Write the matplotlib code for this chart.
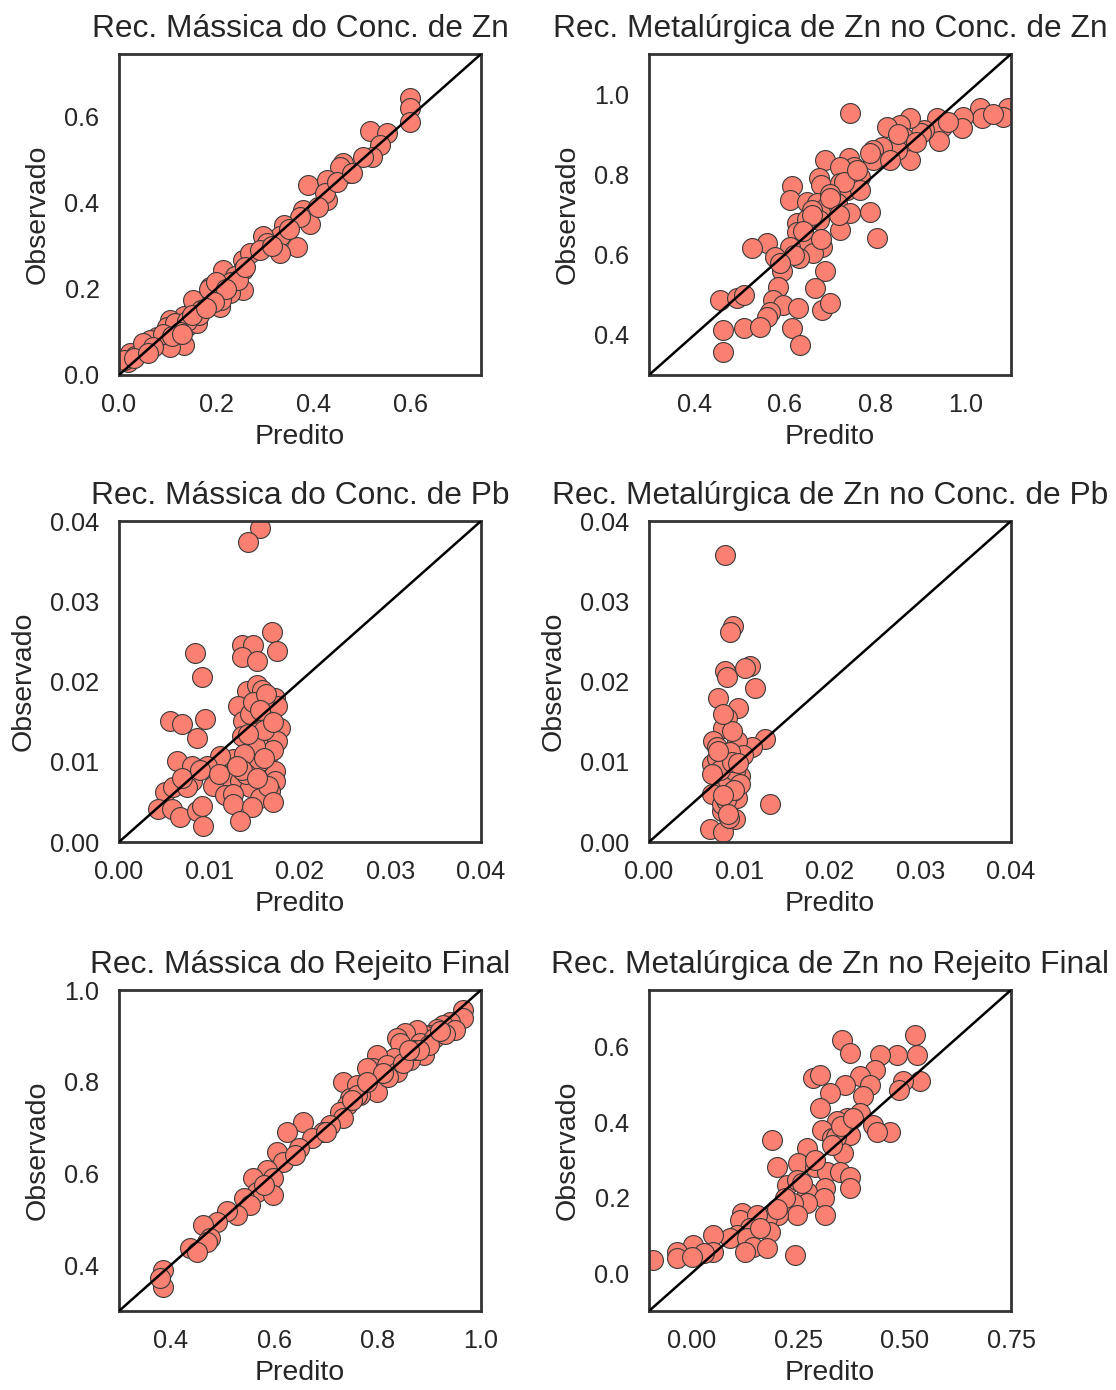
import matplotlib
matplotlib.use("Agg")
import matplotlib.pyplot as plt

plt.rcParams['font.family'] = ['Liberation Sans', 'DejaVu Sans']
plt.rcParams['text.color'] = '#262626'
plt.rcParams['axes.labelcolor'] = '#262626'
plt.rcParams['xtick.color'] = '#262626'
plt.rcParams['ytick.color'] = '#262626'

titles = ["Rec. Mássica do Conc. de Zn", "Rec. Metalúrgica de Zn no Conc. de Zn",
          "Rec. Mássica do Conc. de Pb", "Rec. Metalúrgica de Zn no Conc. de Pb",
          "Rec. Mássica do Rejeito Final", "Rec. Metalúrgica de Zn no Rejeito Final"]

# (predito, observado)
pred_mzn = [0.600, 0.600, 0.600, 0.517, 0.552, 0.538, 0.521, 0.503, 0.462, 0.476, 0.455,
            0.390, 0.428, 0.428, 0.424, 0.449, 0.380, 0.394, 0.373, 0.339, 0.332, 0.366,
            0.332, 0.297, 0.304, 0.256, 0.270, 0.256, 0.222, 0.215, 0.256, 0.229, 0.188,
            0.181, 0.174, 0.208, 0.153, 0.133, 0.139, 0.133, 0.119, 0.105, 0.098, 0.105,
            0.078, 0.064, 0.043, 0.023, 0.019, 0.033, 0.050, 0.160, 0.153, 0.240, 0.200,
            0.290, 0.350, 0.410, 0.480, 0.115, 0.170, 0.090, 0.010, 0.230, 0.185, 0.200,
            0.210, 0.165, 0.140, 0.125, 0.110, 0.070, 0.030, 0.060, 0.245, 0.220, 0.195,
            0.150, 0.315, 0.260, 0.180, 0.130]
obs_mzn = [0.643, 0.620, 0.589, 0.566, 0.562, 0.535, 0.507, 0.507, 0.492, 0.469, 0.484,
           0.442, 0.453, 0.407, 0.422, 0.449, 0.383, 0.352, 0.368, 0.349, 0.322, 0.298,
           0.283, 0.322, 0.306, 0.267, 0.283, 0.244, 0.229, 0.244, 0.198, 0.190, 0.205,
           0.182, 0.167, 0.159, 0.151, 0.136, 0.112, 0.070, 0.105, 0.128, 0.112, 0.066,
           0.089, 0.081, 0.058, 0.050, 0.031, 0.043, 0.074, 0.120, 0.174, 0.230, 0.190,
           0.290, 0.340, 0.390, 0.470, 0.120, 0.150, 0.095, 0.035, 0.215, 0.200, 0.215,
           0.175, 0.140, 0.125, 0.100, 0.090, 0.065, 0.040, 0.050, 0.220, 0.200, 0.170,
           0.140, 0.300, 0.250, 0.155, 0.095]

pred_tzn = [0.744, 1.094, 1.083, 1.032, 1.035, 0.995, 0.991, 0.936, 0.940, 0.947, 0.940,
            0.907, 0.900, 0.877, 0.855, 0.825, 0.862, 0.870, 0.877, 0.848, 0.814, 0.796,
            0.796, 0.833, 0.789, 0.741, 0.752, 0.689, 0.722, 0.766, 0.676, 0.680, 0.722,
            0.737, 0.766, 0.615, 0.612, 0.649, 0.671, 0.693, 0.715, 0.744, 0.789, 0.660,
            0.627, 0.676, 0.722, 0.803, 0.627, 0.645, 0.682, 0.663, 0.612, 0.560, 0.527,
            0.579, 0.631, 0.689, 0.594, 0.586, 0.667, 0.457, 0.494, 0.509, 0.575, 0.597,
            0.630, 0.682, 0.700, 0.567, 0.560, 0.464, 0.509, 0.545, 0.615, 0.634, 0.464,
            0.730, 0.700, 0.650, 0.760, 0.960, 1.060, 0.660, 0.640, 0.700, 0.720, 0.680,
            0.620, 0.590, 0.850, 0.890]
obs_tzn = [0.952, 0.965, 0.944, 0.965, 0.940, 0.944, 0.915, 0.940, 0.911, 0.919, 0.882,
           0.911, 0.902, 0.940, 0.923, 0.919, 0.894, 0.869, 0.836, 0.861, 0.869, 0.861,
           0.836, 0.836, 0.853, 0.840, 0.819, 0.836, 0.819, 0.794, 0.790, 0.774, 0.778,
           0.761, 0.761, 0.770, 0.736, 0.732, 0.728, 0.720, 0.728, 0.703, 0.707, 0.711,
           0.678, 0.686, 0.661, 0.641, 0.657, 0.636, 0.620, 0.603, 0.620, 0.628, 0.616,
           0.595, 0.591, 0.558, 0.558, 0.520, 0.516, 0.487, 0.491, 0.499, 0.487, 0.475,
           0.466, 0.462, 0.479, 0.458, 0.445, 0.412, 0.416, 0.420, 0.416, 0.375, 0.358,
           0.780, 0.750, 0.690, 0.810, 0.930, 0.950, 0.700, 0.660, 0.740, 0.700, 0.640,
           0.600, 0.580, 0.900, 0.880]

pred_mpb = [0.01558, 0.01429, 0.01687, 0.01742, 0.00840, 0.01355, 0.01484, 0.01355, 0.01521,
            0.00913, 0.01410, 0.01521, 0.01576, 0.01723, 0.01318, 0.01521, 0.01742, 0.01650,
            0.01373, 0.01778, 0.01521, 0.01355, 0.01631, 0.01742, 0.00564, 0.00692, 0.00950,
            0.00858, 0.01650, 0.01263, 0.01116, 0.00637, 0.00803, 0.00969, 0.01410, 0.01521,
            0.01723, 0.01723, 0.01208, 0.00803, 0.01042, 0.01336, 0.01447, 0.01668, 0.00508,
            0.00600, 0.00747, 0.01171, 0.01263, 0.01558, 0.01263, 0.01465, 0.00435, 0.00582,
            0.00674, 0.00858, 0.00913, 0.00932, 0.01337, 0.01600, 0.01450, 0.01700, 0.01550,
            0.01400, 0.01650, 0.01500, 0.01380, 0.01600, 0.01700, 0.01480, 0.01620, 0.01560,
            0.01420, 0.01700, 0.01360, 0.01520, 0.01600, 0.00700, 0.00900, 0.01100, 0.01300]
obs_mpb = [0.0391, 0.0374, 0.0262, 0.0238, 0.0236, 0.0246, 0.0246, 0.0231, 0.0225,
           0.0205, 0.0188, 0.0196, 0.0190, 0.0180, 0.0169, 0.0167, 0.0169, 0.0151,
           0.0151, 0.0142, 0.0142, 0.0132, 0.0124, 0.0126, 0.0151, 0.0147, 0.0153,
           0.0130, 0.0109, 0.0103, 0.0107, 0.0101, 0.0095, 0.0095, 0.0093, 0.0089,
           0.0089, 0.0076, 0.0080, 0.0076, 0.0070, 0.0076, 0.0068, 0.0064, 0.0062,
           0.0068, 0.0068, 0.0058, 0.0060, 0.0055, 0.0047, 0.0043, 0.0041, 0.0041,
           0.0031, 0.0039, 0.0045, 0.0020, 0.0026, 0.0178, 0.0160, 0.0115, 0.0100,
           0.0085, 0.0070, 0.0120, 0.0110, 0.0140, 0.0050, 0.0175, 0.0185, 0.0165,
           0.0135, 0.0150, 0.0090, 0.0080, 0.0105, 0.0080, 0.0090, 0.0085, 0.0095]

pred_tpb = [0.00840, 0.00932, 0.00895, 0.00840, 0.01116, 0.01061, 0.00858, 0.01171, 0.00766,
            0.00987, 0.00858, 0.00821, 0.01282, 0.01134, 0.00711, 0.00969, 0.00748, 0.00895,
            0.01042, 0.00692, 0.00858, 0.01005, 0.00766, 0.00821, 0.00692, 0.00969, 0.01337,
            0.00803, 0.00950, 0.00674, 0.00821, 0.00877, 0.00932, 0.00803, 0.00748, 0.00913,
            0.00821, 0.00900, 0.00950, 0.00780, 0.01000, 0.00850, 0.00920, 0.00700, 0.00880,
            0.00940, 0.00820, 0.00760, 0.00980, 0.00870]
obs_tpb = [0.0358, 0.0269, 0.0262, 0.0213, 0.0219, 0.0217, 0.0205, 0.0192, 0.0180,
           0.0167, 0.0155, 0.0142, 0.0128, 0.0118, 0.0126, 0.0126, 0.0118, 0.0107,
           0.0109, 0.0097, 0.0093, 0.0082, 0.0080, 0.0068, 0.0060, 0.0055, 0.0047,
           0.0039, 0.0029, 0.0016, 0.0012, 0.0076, 0.0064, 0.0047, 0.0105, 0.0138,
           0.0159, 0.0112, 0.0088, 0.0090, 0.0072, 0.0052, 0.0100, 0.0085, 0.0030,
           0.0065, 0.0058, 0.0113, 0.0098, 0.0035]

pred_mrf = [0.966, 0.966, 0.940, 0.927, 0.914, 0.950, 0.902, 0.889, 0.876, 0.853, 0.837,
            0.844, 0.882, 0.889, 0.863, 0.831, 0.798, 0.792, 0.818, 0.837, 0.779, 0.734,
            0.760, 0.786, 0.798, 0.766, 0.747, 0.740, 0.727, 0.734, 0.708, 0.695, 0.656,
            0.624, 0.674, 0.649, 0.605, 0.617, 0.586, 0.598, 0.560, 0.566, 0.598, 0.541,
            0.553, 0.528, 0.508, 0.489, 0.463, 0.476, 0.470, 0.437, 0.450, 0.386, 0.386,
            0.379, 0.910, 0.870, 0.820, 0.760, 0.700, 0.640, 0.580, 0.850, 0.900, 0.930,
            0.880, 0.810, 0.780, 0.750, 0.860, 0.920]
obs_mrf = [0.956, 0.938, 0.931, 0.924, 0.916, 0.913, 0.902, 0.902, 0.913, 0.906, 0.895,
           0.884, 0.884, 0.858, 0.847, 0.851, 0.858, 0.829, 0.837, 0.822, 0.829, 0.800,
           0.793, 0.793, 0.778, 0.771, 0.764, 0.749, 0.735, 0.720, 0.706, 0.691, 0.713,
           0.691, 0.677, 0.655, 0.647, 0.626, 0.608, 0.589, 0.589, 0.560, 0.553, 0.546,
           0.531, 0.509, 0.517, 0.495, 0.488, 0.459, 0.451, 0.437, 0.429, 0.389, 0.353,
           0.371, 0.895, 0.870, 0.810, 0.770, 0.690, 0.640, 0.575, 0.840, 0.880, 0.905,
           0.870, 0.820, 0.800, 0.760, 0.870, 0.910]

pred_trf = [0.525, 0.529, 0.482, 0.443, 0.353, 0.372, 0.537, 0.497, 0.486, 0.431, 0.396,
            0.419, 0.403, 0.360, 0.325, 0.286, 0.302, 0.302, 0.396, 0.427, 0.466, 0.435,
            0.364, 0.341, 0.306, 0.372, 0.329, 0.356, 0.270, 0.188, 0.200, 0.251, 0.290,
            0.317, 0.349, 0.372, 0.372, 0.313, 0.270, 0.223, 0.247, 0.310, 0.270, 0.239,
            0.313, 0.247, 0.204, 0.176, 0.118, 0.114, 0.153, 0.137, 0.184, 0.106, 0.090,
            0.129, 0.145, 0.176, 0.125, 0.051, 0.004, 0.051, 0.028, -0.035, -0.035, 0.000,
            -0.090, 0.243, 0.340, 0.290, 0.220, 0.160, 0.350, 0.380, 0.330, 0.260, 0.200]
obs_trf = [0.631, 0.578, 0.578, 0.578, 0.618, 0.583, 0.508, 0.508, 0.485, 0.538, 0.521,
           0.499, 0.468, 0.499, 0.477, 0.516, 0.525, 0.437, 0.424, 0.393, 0.375, 0.375,
           0.410, 0.402, 0.379, 0.366, 0.357, 0.318, 0.331, 0.353, 0.282, 0.291, 0.282,
           0.269, 0.269, 0.256, 0.225, 0.225, 0.216, 0.234, 0.247, 0.198, 0.185, 0.185,
           0.154, 0.154, 0.154, 0.145, 0.159, 0.141, 0.154, 0.119, 0.110, 0.101, 0.093,
           0.093, 0.070, 0.066, 0.057, 0.101, 0.075, 0.057, 0.053, 0.057, 0.040, 0.044,
           0.035, 0.048, 0.360, 0.300, 0.200, 0.120, 0.390, 0.410, 0.340, 0.240, 0.170]

preds = [pred_mzn, pred_tzn, pred_mpb, pred_tpb, pred_mrf, pred_trf]
obss = [obs_mzn, obs_tzn, obs_mpb, obs_tpb, obs_mrf, obs_trf]
limits = [(0.0, 0.746), (0.3, 1.1), (0.0, 0.04), (0.0, 0.04), (0.3, 1.0), (-0.1, 0.75)]
ticks = [[0.0, 0.2, 0.4, 0.6], [0.4, 0.6, 0.8, 1.0],
         [0.0, 0.01, 0.02, 0.03, 0.04], [0.0, 0.01, 0.02, 0.03, 0.04],
         [0.4, 0.6, 0.8, 1.0], [0.0, 0.25, 0.5, 0.75]]
yticks = [[0.0, 0.2, 0.4, 0.6], [0.4, 0.6, 0.8, 1.0],
          [0.0, 0.01, 0.02, 0.03, 0.04], [0.0, 0.01, 0.02, 0.03, 0.04],
          [0.4, 0.6, 0.8, 1.0], [0.0, 0.2, 0.4, 0.6]]
xfmt = ["%.1f", "%.1f", "%.2f", "%.2f", "%.1f", "%.2f"]
yfmt = ["%.1f", "%.1f", "%.2f", "%.2f", "%.1f", "%.1f"]

W, H = 1116, 1390
fig = plt.figure(figsize=(W / 100, H / 100), dpi=100)
lefts = [119, 649]
tops = [54, 521, 990]
aw, ah = 362, 321

for i in range(6):
    r, c = divmod(i, 2)
    ax = fig.add_axes([lefts[c] / W, 1 - (tops[r] + ah) / H, aw / W, ah / H])
    lo, hi = limits[i]
    ax.scatter(preds[i], obss[i], s=205, color="#FA8072", edgecolor="#3a3a3a",
               linewidth=0.8, zorder=2)
    ax.plot([lo, hi], [lo, hi], color="black", lw=1.8, zorder=3)
    ax.set_xlim(lo, hi)
    ax.set_ylim(lo, hi)
    ax.set_xticks(ticks[i])
    ax.set_yticks(yticks[i])
    ax.set_xticklabels([xfmt[i] % t for t in ticks[i]])
    ax.set_yticklabels([yfmt[i] % t for t in yticks[i]])
    ax.tick_params(axis="x", length=0, pad=13, labelsize=18.2)
    ax.tick_params(axis="y", length=0, pad=14, labelsize=18.2)
    for sp in ax.spines.values():
        sp.set_color("#333333")
        sp.set_linewidth(2.0)
    ax.set_title(titles[i], fontsize=22.9, pad=12)
    ax.set_xlabel("Predito", fontsize=20.5, labelpad=5)
    ax.set_ylabel("Observado", fontsize=20.5, labelpad=10)

fig.savefig("out.png", dpi=100)
